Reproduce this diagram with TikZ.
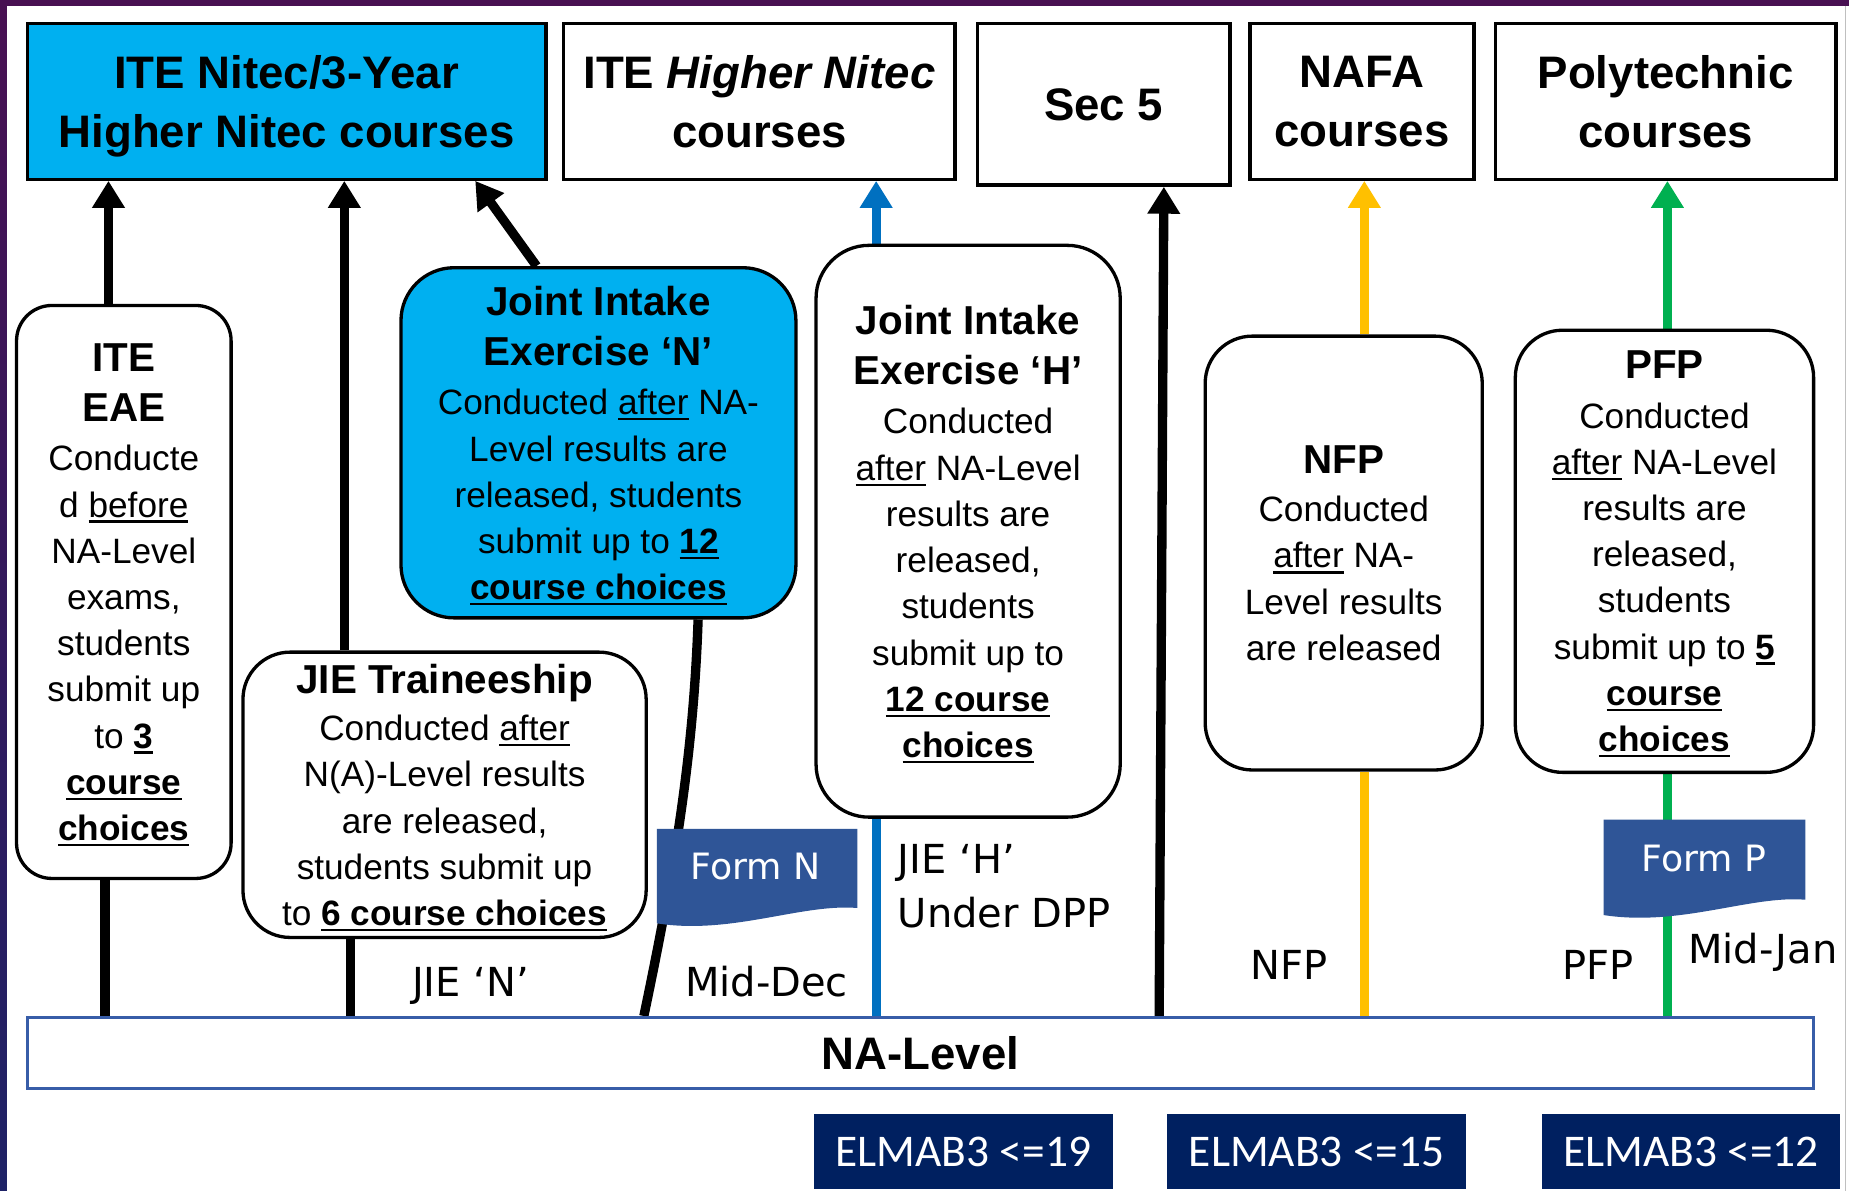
\documentclass[tikz,border=0pt]{standalone}
\usepackage{fontspec}
\setmainfont{Liberation Sans}
\newfontfamily\lblfont{DejaVu Sans}
\newfontfamily\elmfont{Carlito}
\usetikzlibrary{arrows.meta}
\definecolor{cyanbox}{RGB}{0,176,240}
\definecolor{lineblue}{RGB}{0,112,192}
\definecolor{lineyellow}{RGB}{255,192,0}
\definecolor{linegreen}{RGB}{0,176,80}
\definecolor{formblue}{RGB}{47,85,151}
\definecolor{elmblue}{RGB}{0,32,96}
\definecolor{nablue}{RGB}{56,93,168}
\definecolor{bgpurple}{RGB}{72,16,82}
\definecolor{bgnavy}{RGB}{30,34,102}
\pgfdeclarelayer{back}
\pgfdeclarelayer{bg}
\pgfsetlayers{back,bg,main}
\newcommand\ulx[1]{\leavevmode\setbox0=\hbox{#1}\rlap{\rule[-0.16em]{\wd0}{0.065em}}\box0\relax}
\newcommand\hd{\fontsize{19.5pt}{24pt}\selectfont\bfseries}
\begin{document}
\begin{tikzpicture}[x=0.02cm, y=-0.02cm,
  topbox/.style={draw=black, line width=1.6pt, inner sep=0pt, align=center,
    font=\fontsize{22pt}{28.35pt}\selectfont\bfseries},
  rbox/.style={draw=black, line width=1.6pt, fill=white, inner sep=0pt, align=center,
    text depth=0pt, font=\fontsize{17pt}{22.3pt}\selectfont},
  lbl/.style={inner sep=0pt, font=\lblfont\fontsize{19.3pt}{26pt}\selectfont},
  formtxt/.style={inner sep=0pt, text=white, font=\lblfont\fontsize{17.5pt}{20pt}\selectfont},
  elm/.style={fill=elmblue, minimum height=1.26cm, inner sep=0pt, text=white,
    font=\elmfont\fontsize{21.9pt}{24pt}\selectfont},
  conn/.style={line width=4.5pt},
  arr/.style={conn, -{Triangle[width=15pt,length=13pt]}}
]
\useasboundingbox (0,0) rectangle (1568,1010);
\begin{pgfonlayer}{back}
\fill[bgpurple] (0,0) rectangle (1568,1010);
\shade[top color=bgpurple, bottom color=bgnavy] (0,0) rectangle (6,1010);
\fill[white] (6,5) rectangle (1568,1010);
\draw[black!25, line width=0.6pt] (1565,5) -- (1565,1010);
\end{pgfonlayer}

% top destination boxes
\node[topbox, fill=cyanbox, text depth=0pt, minimum width=8.8cm, minimum height=2.64cm] (itenitec) at (243,86) {ITE Nitec/3-Year\\Higher Nitec courses};
\node[topbox, minimum width=6.64cm, minimum height=2.64cm] (hnitec) at (644,86) {ITE \textit{Higher Nitec}\\courses};
\node[topbox, minimum width=4.28cm, minimum height=2.74cm] (sec5) at (936,88.5) {Sec 5};
\node[topbox, minimum width=3.8cm, minimum height=2.64cm] (nafa) at (1155,86) {NAFA\\courses};
\node[topbox, minimum width=5.78cm, minimum height=2.64cm] (poly) at (1412.5,86) {Polytechnic\\courses};

% exercise boxes
\node[rbox, rounded corners=0.6cm, minimum width=3.64cm, minimum height=9.72cm] (eae) at (105,502)
 {{\hd ITE}\\[2pt]{\hd EAE}\\[1.5pt]Conducte\\d \ulx{before}\\NA-Level\\exams,\\students\\submit up\\to \ulx{\textbf{3}}\\\ulx{\textbf{course}}\\\ulx{\textbf{choices}}};
\node[rbox, fill=cyanbox, rounded corners=0.9cm, minimum width=6.7cm, minimum height=5.94cm] (jien) at (507.5,375.5)
 {{\hd Joint Intake}\\[2pt]{\hd Exercise ‘N’}\\[1.5pt]Conducted \ulx{after} NA-\\Level results are\\released, students\\submit up to \ulx{\textbf{12}}\\\ulx{\textbf{course choices}}};
\node[rbox, rounded corners=0.9cm, minimum width=5.16cm, minimum height=9.7cm] (jieh) at (821,450.5)
 {{\hd Joint Intake}\\[2pt]{\hd Exercise ‘H’}\\[1.5pt]Conducted\\\ulx{after} NA-Level\\results are\\released,\\students\\submit up to\\\ulx{\textbf{12 course}}\\\ulx{\textbf{choices}}};
\node[rbox, rounded corners=0.8cm, minimum width=6.84cm, minimum height=4.84cm] (trainee) at (377,674)
 {{\hd JIE Traineeship}\\[0.5pt]Conducted \ulx{after}\\N(A)-Level results\\are released,\\students submit up\\to \ulx{\textbf{6 course choices}}};
\node[rbox, rounded corners=0.8cm, minimum width=4.7cm, minimum height=7.36cm] (nfp) at (1139.5,469)
 {{\hd NFP}\\[1pt]Conducted\\\ulx{after} NA-\\Level results\\are released};
\node[rbox, rounded corners=0.8cm, minimum width=5.06cm, minimum height=7.5cm] (pfp) at (1411.5,467.5)
 {{\hd PFP}\\[1.5pt]Conducted\\\ulx{after} NA-Level\\results are\\released,\\students\\submit up to \ulx{\textbf{5}}\\\ulx{\textbf{course}}\\\ulx{\textbf{choices}}};

% NA-Level bar
\node[draw=nablue, line width=1.6pt, minimum width=30.3cm, minimum height=1.2cm, inner sep=0pt,
  font=\fontsize{22pt}{26pt}\selectfont\bfseries] (na) at (780.5,893) {NA-Level};

% ELMAB boxes
\node[elm, minimum width=5.08cm] (elm19) at (817,976.5) {ELMAB3 <=19};
\node[elm, minimum width=5.06cm] (elm15) at (1116.5,976.5) {ELMAB3 <=15};
\node[elm, minimum width=5.04cm] (elm12) at (1434,976.5) {ELMAB3 <=12};

% x positions of connectors
\coordinate (xEAEb) at (89,0);
\coordinate (xEAEt) at (92,0);
\coordinate (xTRb) at (297,0);
\coordinate (xTRt) at (292,0);
\coordinate (xJNb) at (546,0);
\coordinate (xJNs) at (592,0);
\coordinate (xJNt) at (455,0);
\coordinate (xJNa) at (403,0);
\coordinate (xJH) at (743,0);
\coordinate (xSb) at (983,0);
\coordinate (xSt) at (987,0);
\coordinate (xNF) at (1157,0);
\coordinate (xPF) at (1414,0);

\begin{pgfonlayer}{bg}
\draw[conn] (na.north -| xEAEb) -- (eae.south -| xEAEb);
\draw[arr] (eae.north -| xEAEt) -- (itenitec.south -| xEAEt);
\draw[conn] (na.north -| xTRb) -- (trainee.south -| xTRb);
\draw[arr] (trainee.north -| xTRt) -- (itenitec.south -| xTRt);
\draw[conn] (na.north -| xJNb) .. controls (571,742) and (588,644) .. (jien.south -| xJNs);
\draw[arr] (jien.north -| xJNt) -- (itenitec.south -| xJNa);
\draw[conn, lineblue] (na.north -| xJH) -- (jieh.south -| xJH);
\draw[arr, lineblue] (jieh.north -| xJH) -- (hnitec.south -| xJH);
\draw[arr] (na.north -| xSb) -- (sec5.south -| xSt);
\draw[conn, lineyellow] (na.north -| xNF) -- (nfp.south -| xNF);
\draw[arr, lineyellow] (nfp.north -| xNF) -- (nafa.south -| xNF);
\draw[conn, linegreen] (na.north -| xPF) -- (pfp.south -| xPF);
\draw[arr, linegreen] (pfp.north -| xPF) -- (poly.south -| xPF);
\end{pgfonlayer}

% forms
\fill[formblue] (557,703) -- (727,703) -- (727,770) .. controls (680,766) and (620,793) .. (557,783) -- cycle;
\node[formtxt] (formn) at (641,735) {Form N};
\fill[formblue] (1360,695) -- (1531,695) -- (1531,763) .. controls (1485,759) and (1425,786) .. (1360,776) -- cycle;
\node[formtxt] (formp) at (1445,728) {Form P};

% labels
\node[lbl, anchor=base] (lbljien) at (399,845) {JIE ‘N’};
\node[lbl, anchor=base] (lblmiddec) at (650,845) {Mid-Dec};
\node[lbl, anchor=north west, align=left] (lbljieh) at (761,716) {JIE ‘H’\\Under DPP};
\node[lbl, anchor=base] (lblnfp) at (1093,831) {NFP};
\node[lbl, anchor=base] (lblpfp) at (1355,831) {PFP};
\node[lbl, anchor=base] (lblmidjan) at (1495,817) {Mid-Jan};
\end{tikzpicture}
\end{document}
